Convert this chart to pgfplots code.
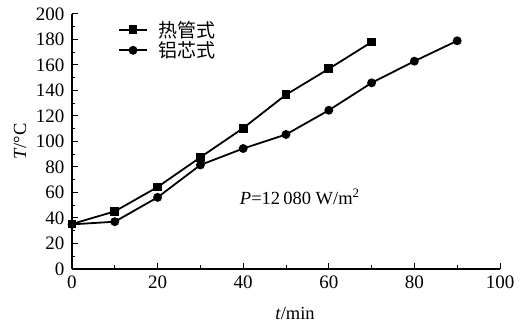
\documentclass[border=0pt]{standalone}
\usepackage{pgfplots}
\pgfplotsset{compat=1.18}
\usepackage{fontspec}
\setmainfont{Liberation Serif}
\newfontfamily\cjk{Noto Sans CJK SC}
\begin{document}
\begin{tikzpicture}
\begin{axis}[
  scale only axis, width=428pt, height=255pt,
  xmin=0, xmax=100, ymin=0, ymax=200,
  axis x line*=bottom, axis y line*=left,
  axis line style={line width=1.2pt, -},
  xtick={0,20,...,100}, ytick={0,20,...,200},
  minor x tick num=1, minor y tick num=1,
  tick align=inside,
  major tick length=6pt, minor tick length=3.5pt,
  every tick/.style={black, line width=1pt},
  /pgf/number format/assume math mode=true,
  ticklabel style={font=\fontsize{19}{20}\selectfont},
  yticklabel style={xshift=-4pt},
  xticklabel style={yshift=-3pt},
  xlabel={\textit{t}/min}, ylabel={\textit{T}/°C},
  every axis x label/.style={at={(axis description cs:0.521,-0.1725)}, anchor=center, font=\fontsize{18.5}{20}\selectfont},
  every axis y label/.style={at={(axis description cs:-0.1215,0.5)}, anchor=center, rotate=90, font=\fontsize{18.5}{20}\selectfont},
  clip=false,
  legend style={draw=none, fill=none, at={(axis description cs:0.105,0.985)}, anchor=north west,
    font=\cjk\fontsize{19}{21}\selectfont, row sep=-1pt, column sep=9pt, inner sep=1pt},
  legend cell align=left,
  legend image code/.code={\draw[mark repeat=2,mark phase=2] plot coordinates {(0pt,0pt)(14pt,0pt)(28pt,0pt)};},
]
\coordinate (o) at (rel axis cs:0,0);
\addplot[black, line width=1.8pt, mark=square*, mark size=3.5pt, mark options={solid}] coordinates {
 (0,35.3) (10,45.2) (20,64.3) (30,87.6) (40,110.5) (50,136.7) (60,157) (70,178)
};
\addlegendentry{热管式}
\addplot[black, line width=1.8pt, mark=*, mark size=3.5pt, mark options={solid}] coordinates {
 (0,35) (10,37.1) (20,56.2) (30,81.6) (40,94.5) (50,105.5) (60,124.5) (70,146) (80,163) (90,179)
};
\addlegendentry{铝芯式}
\node[anchor=west, inner sep=0pt, font=\fontsize{18.5}{20}\selectfont] at (axis cs:39.2,56.5) {\textit{P}=12\,080 W/m\textsuperscript{2}};
\end{axis}
\path (o) ++(-72pt,-55pt) rectangle ++(520pt,324pt);
\end{tikzpicture}
\end{document}
